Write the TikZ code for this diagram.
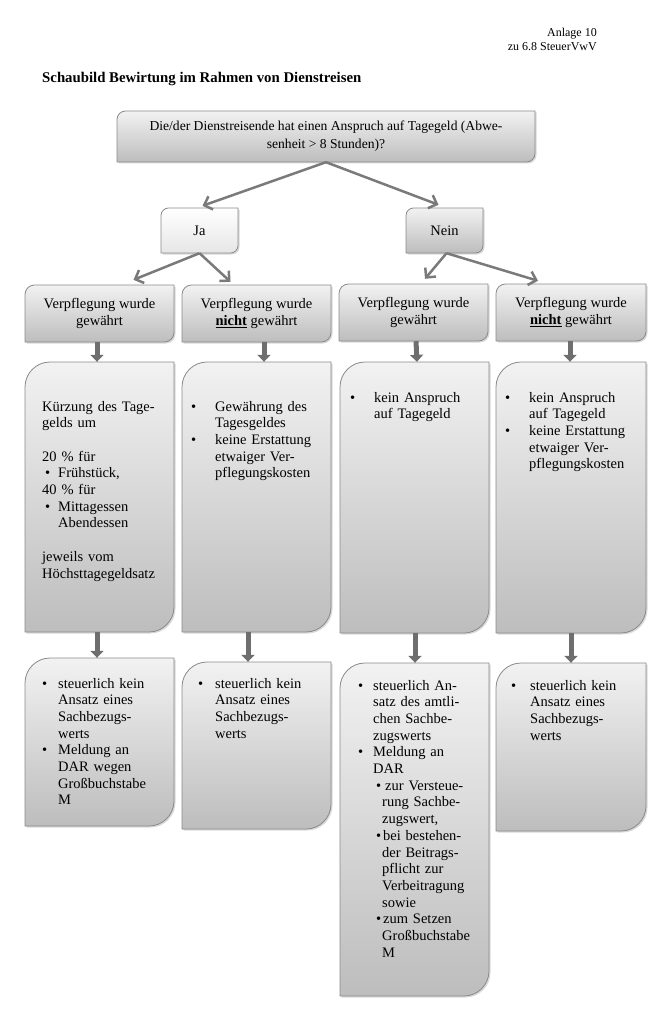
\documentclass[tikz,border=0pt]{standalone}
\usepackage{fontspec}
\setmainfont{Liberation Serif}
\usetikzlibrary{arrows.meta,shadows}

\definecolor{boxtop}{HTML}{F2F2F2}
\definecolor{boxbot}{HTML}{BDBDBD}
\definecolor{jabot}{HTML}{E6E6E6}
\definecolor{boxline}{HTML}{8A8A8A}
\definecolor{arrowgray}{HTML}{7A7A7A}
\definecolor{blockgray}{HTML}{6E6E6E}

\tikzset{
  graybox/.style={draw=boxline,line width=0.8pt,top color=boxtop,bottom color=boxbot,
    drop shadow={opacity=0.3,shadow xshift=1.5pt,shadow yshift=-1.5pt}},
  lightbox/.style={graybox,top color=white,bottom color=jabot},
  flowarrow/.style={draw=arrowgray,line width=2.5pt,-{Straight Barb[length=7pt,width=14pt]}},
  blockarrow/.style={draw=blockgray,line width=5pt,-{Triangle[length=7pt,width=13pt]}},
  boxtext/.style={inner sep=0pt,font=\fontsize{14.5}{16.7}\selectfont},
  listtext/.style={boxtext,anchor=base west,text width=150pt,align=left},
  headtext/.style={inner sep=0pt,font=\fontsize{12}{14}\selectfont}
}

% #1 style, #2 name, #3 left, #4 top, #5 right, #6 bottom, #7 corner radius
\newcommand\diagbox[7][graybox]{%
  \path[#1] (#3,#6) -- (#3,#4+#7) .. controls (#3,#4+0.45*#7) and (#3+0.45*#7,#4) .. (#3+#7,#4)
    -- (#5,#4) -- (#5,#6-#7) .. controls (#5,#6-0.45*#7) and (#5-0.45*#7,#6) .. (#5-#7,#6) -- cycle;
  \node[inner sep=0pt,minimum width={(#5-#3)*1pt},minimum height={(#6-#4)*1pt}] (#2) at ({(#3+#5)/2},{(#4+#6)/2}) {};
}
\newcommand\bul[1]{\makebox[#1][l]{\textbullet}}
\newcommand\ind[1]{\hspace*{#1}}

\begin{document}
\begin{tikzpicture}[x=1pt,y=-1pt]
\path[use as bounding box] (0,0) rectangle (667,1027);
\node[headtext,anchor=base east] (anlage) at (597,37) {Anlage 10};
\node[headtext,anchor=base east] (vwv) at (597,51) {zu 6.8 SteuerVwV};
\node[anchor=base west,inner sep=0pt,font=\fontsize{14.8}{17.8}\selectfont\bfseries] (titel) at (42,83) {Schaubild Bewirtung im Rahmen von Dienstreisen};
\diagbox{frage}{117}{111}{535}{162}{8.5}
\node[boxtext,align=center,font=\fontsize{13.6}{18}\selectfont] (fragetxt) at (frage) {Die/der Dienstreisende hat einen Anspruch auf Tagegeld (Abwe-\\senheit > 8 Stunden)?};
\diagbox[lightbox]{ja}{161}{208}{238}{253}{7.5}
\node[boxtext] (jatxt) at (ja) {Ja};
\diagbox{nein}{406}{208}{483}{253}{7.5}
\node[boxtext] (neintxt) at (nein) {Nein};
\diagbox{a1}{25}{285}{174}{342}{9.5}
\node[boxtext,align=center] (a1txt) at (a1) {Verpflegung wurde\\gewährt};
\diagbox{a2}{182}{285}{331}{342}{9.5}
\node[boxtext,align=center] (a2txt) at (a2) {Verpflegung wurde\\\underline{\textbf{nicht}} gewährt};
\diagbox{a3}{339}{284}{488}{341}{9.5}
\node[boxtext,align=center] (a3txt) at (a3) {Verpflegung wurde\\gewährt};
\diagbox{a4}{496}{284}{646}{341}{9.5}
\node[boxtext,align=center] (a4txt) at (a4) {Verpflegung wurde\\\underline{\textbf{nicht}} gewährt};
\diagbox{b1}{25}{362}{174}{632}{25}
\node[listtext] (b1txt) at (42,411) {Kürzung des Tage-\\gelds um\\[16.7pt]20 \% für\\\ind{3pt}\bul{13pt}Frühstück,\\40 \% für\\\ind{3pt}\bul{13pt}Mittagessen\\\ind{16pt}Abendessen\\[16.7pt]jeweils vom\\Höchsttagegeldsatz};
\diagbox{b2}{182}{362}{331}{632}{25}
\node[listtext] (b2txt) at (191,411) {\bul{24pt}Gewährung des\\\ind{24pt}Tagesgeldes\\\bul{24pt}keine Erstattung\\\ind{24pt}etwaiger Ver-\\\ind{24pt}pflegungskosten};
\diagbox{b3}{340}{362}{489}{633}{25}
\node[listtext] (b3txt) at (350,402) {\bul{24pt}kein Anspruch\\\ind{24pt}auf Tagegeld};
\diagbox{b4}{496}{362}{646}{633}{25}
\node[listtext] (b4txt) at (505,402) {\bul{24pt}kein Anspruch\\\ind{24pt}auf Tagegeld\\\bul{24pt}keine Erstattung\\\ind{24pt}etwaiger Ver-\\\ind{24pt}pflegungskosten};
\diagbox{c1}{25}{658}{174}{826}{25}
\node[listtext] (c1txt) at (42,688) {\bul{16pt}steuerlich kein\\\ind{16pt}Ansatz eines\\\ind{16pt}Sachbezugs-\\\ind{16pt}werts\\\bul{16pt}Meldung an\\\ind{16pt}DAR wegen\\\ind{16pt}Großbuchstabe\\\ind{16pt}M};
\diagbox{c2}{182}{662}{331}{829}{25}
\node[listtext] (c2txt) at (198,688) {\bul{17pt}steuerlich kein\\\ind{17pt}Ansatz eines\\\ind{17pt}Sachbezugs-\\\ind{17pt}werts};
\diagbox{c3}{340}{663}{489}{996}{25}
\node[listtext] (c3txt) at (358,690) {\bul{15pt}steuerlich An-\\\ind{15pt}satz des amtli-\\\ind{15pt}chen Sachbe-\\\ind{15pt}zugswerts\\\bul{15pt}Meldung an\\\ind{15pt}DAR\\\ind{18pt}\bul{9pt}zur Versteue-\\\ind{24pt}rung Sachbe-\\\ind{24pt}zugswert,\\\ind{18pt}\bul{7pt}bei bestehen-\\\ind{24pt}der Beitrags-\\\ind{24pt}pflicht zur\\\ind{24pt}Verbeitragung\\\ind{24pt}sowie\\\ind{18pt}\bul{7pt}zum Setzen\\\ind{24pt}Großbuchstabe\\\ind{24pt}M};
\diagbox{c4}{496}{663}{646}{831}{25}
\node[listtext] (c4txt) at (511,690) {\bul{19pt}steuerlich kein\\\ind{19pt}Ansatz eines\\\ind{19pt}Sachbezugs-\\\ind{19pt}werts};
\draw[flowarrow] (frage.south) -- ([shift={(3,-2)}]ja.north);
\draw[flowarrow] (frage.south) -- ([shift={(-6,-3)}]nein.north);
\draw[flowarrow] (ja.south) -- ([shift={(34,-5)}]a1.north);
\draw[flowarrow] (ja.south) -- ([shift={(-26,-3)}]a2.north);
\draw[flowarrow] ([xshift=2pt]nein.south) -- ([shift={(11.5,-5)}]a3.north);
\draw[flowarrow] ([xshift=2pt]nein.south) -- ([shift={(-33,-3)}]a4.north);
\draw[blockarrow] ([xshift=-2.5pt]a1.south) -- ([xshift=-2.5pt]b1.north);
\draw[blockarrow] ([xshift=7.5pt]a2.south) -- ([xshift=7.5pt]b2.north);
\draw[blockarrow] ([xshift=2.5pt]a3.south) -- ([xshift=2.5pt]b3.north);
\draw[blockarrow] ([xshift=-1pt]a4.south) -- ([xshift=-1pt]b4.north);
\draw[blockarrow] ([xshift=-2.5pt]b1.south) -- ([xshift=-2.5pt]c1.north);
\draw[blockarrow] ([xshift=-8.5pt]b2.south) -- ([xshift=-8.5pt]c2.north);
\draw[blockarrow] ([xshift=0.5pt]b3.south) -- ([xshift=0.5pt]c3.north);
\draw[blockarrow] (b4.south) -- (c4.north);
\end{tikzpicture}
\end{document}
